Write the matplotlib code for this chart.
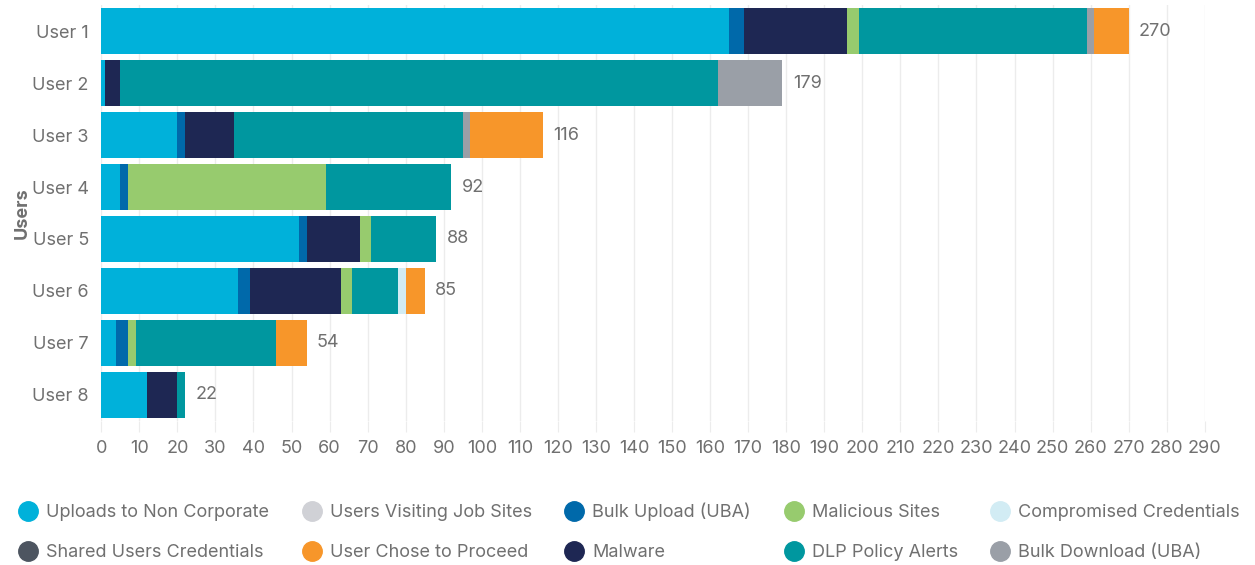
import matplotlib.pyplot as plt
from matplotlib.lines import Line2D
import numpy as np

plt.rcParams['font.family'] = ['Inter', 'DejaVu Sans']

users = ["User 1", "User 2", "User 3", "User 4", "User 5", "User 6", "User 7", "User 8"]

# one list per category, values for User 1..8
uploads_non_corp = [165, 1, 20, 5, 52, 36, 4, 12]
job_sites = [0, 0, 0, 0, 0, 0, 0, 0]
bulk_upload = [4, 0, 2, 2, 2, 3, 3, 0]
malware = [27, 4, 13, 0, 14, 24, 0, 8]
malicious_sites = [3, 0, 0, 52, 3, 3, 2, 0]
shared_creds = [0, 0, 0, 0, 0, 0, 0, 0]
dlp_alerts = [60, 157, 60, 33, 17, 12, 37, 2]
compromised_creds = [0, 0, 0, 0, 0, 2, 0, 0]
bulk_download = [2, 17, 2, 0, 0, 0, 0, 0]
chose_to_proceed = [9, 0, 19, 0, 0, 5, 8, 0]

# stacking order as drawn in the bars
series = [
    ("Uploads to Non Corporate", uploads_non_corp, "#00b1da"),
    ("Users Visiting Job Sites", job_sites, "#d0d1d6"),
    ("Bulk Upload (UBA)", bulk_upload, "#0069aa"),
    ("Malware", malware, "#1e2753"),
    ("Malicious Sites", malicious_sites, "#97cb6e"),
    ("Shared Users Credentials", shared_creds, "#4d5560"),
    ("DLP Policy Alerts", dlp_alerts, "#00979f"),
    ("Compromised Credentials", compromised_creds, "#d2ecf4"),
    ("Bulk Download (UBA)", bulk_download, "#9a9fa7"),
    ("User Chose to Proceed", chose_to_proceed, "#f7962a"),
]
colors = {name: c for name, _, c in series}

txt = "#707070"
fig = plt.figure(figsize=(12.55, 5.65), dpi=100)
ax = fig.add_axes([0.0807, 0.255, 0.8793, 0.736])

y = np.arange(len(users))
left = np.zeros(len(users))
for name, vals, c in series:
    vals = np.array(vals, dtype=float)
    ax.barh(y, vals, left=left, height=0.9, color=c, zorder=3)
    left += vals

for yi, tot in zip(y, left):
    ax.text(tot + 2.7, yi, f"{int(tot)}", va="center", ha="left", fontsize=13, color=txt)

ax.set_ylim(len(users) - 0.5, -0.5)
ax.set_yticks(y)
ax.set_yticklabels(users)
ax.set_xlim(0, 290)
ax.set_xticks(np.arange(0, 291, 10))
ax.grid(axis="x", color="#ececec", linewidth=1, zorder=0)
for s in ax.spines.values():
    s.set_visible(False)
ax.tick_params(axis="x", length=8, color="#ececec", labelsize=13, labelcolor=txt, pad=6)
ax.tick_params(axis="y", length=0, labelsize=13, labelcolor=txt, pad=9)
ax.set_ylabel("Users", fontsize=13, fontweight="bold", color=txt, labelpad=1)

# legend, laid out row-wise in 5 columns
legend_rows = [
    ["Uploads to Non Corporate", "Users Visiting Job Sites", "Bulk Upload (UBA)",
     "Malicious Sites", "Compromised Credentials"],
    ["Shared Users Credentials", "User Chose to Proceed", "Malware",
     "DLP Policy Alerts", "Bulk Download (UBA)"],
]
order = []
for col in range(5):
    for row in legend_rows:
        order.append(row[col])
handles = [Line2D([], [], marker="o", linestyle="", markersize=14,
                  markerfacecolor=colors[n], markeredgecolor=colors[n]) for n in order]
leg = fig.legend(handles, order, ncol=5, loc="center left",
                 bbox_to_anchor=(0.0096, 1 - 532 / 565),
                 frameon=False, fontsize=13, labelcolor=txt, handlelength=1.0,
                 handletextpad=0.5, columnspacing=1.85, labelspacing=1.25,
                 borderaxespad=0)

fig.savefig("out.png", dpi=100)
